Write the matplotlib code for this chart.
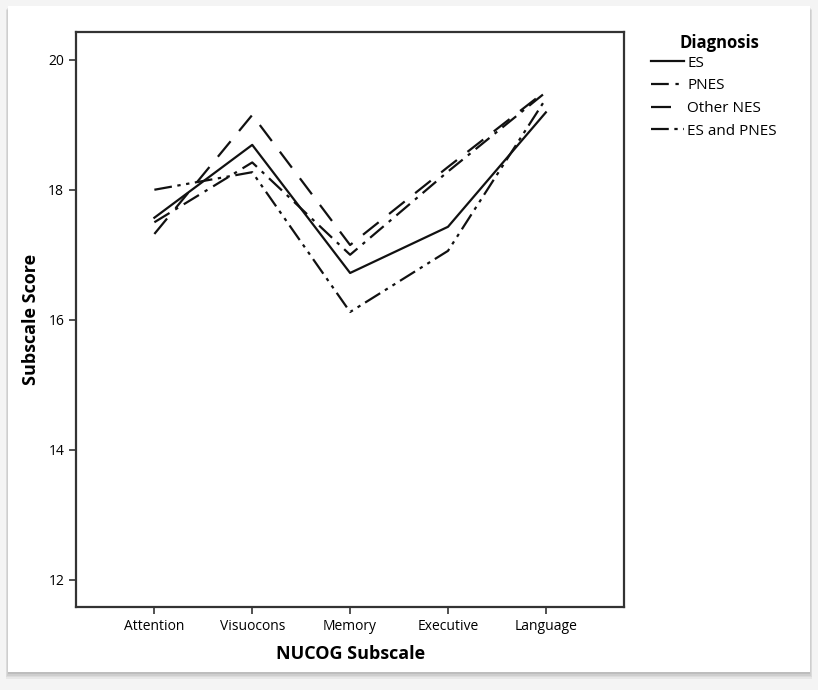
import matplotlib
matplotlib.use("Agg")
import matplotlib.pyplot as plt
from matplotlib.patches import FancyBboxPatch

plt.rcParams["font.family"] = ["Open Sans", "DejaVu Sans"]

SUBSCALES = ["Attention", "Visuocons", "Memory", "Executive", "Language"]
ES = [17.57, 18.69, 16.72, 17.43, 19.19]
PNES = [17.50, 18.42, 17.00, 18.28, 19.50]
OTHER_NES = [17.32, 19.15, 17.15, 18.35, 19.52]
ES_AND_PNES = [18.00, 18.27, 16.12, 17.06, 19.40]
Y_TICKS = [12, 14, 16, 18, 20]

SERIES = [
    ("ES", ES, "-"),
    ("PNES", PNES, (0, (8, 3, 1.5, 3))),
    ("Other NES", OTHER_NES, (0, (9, 6))),
    ("ES and PNES", ES_AND_PNES, (0, (8, 2.5, 1.5, 2.5, 1.5, 2.5))),
]

fig = plt.figure(figsize=(8.18, 6.9), dpi=100)
fig.patch.set_facecolor("#f4f4f4")

# card with a soft shadow, like the screenshot
for i, a in enumerate([0.05, 0.05, 0.06, 0.08]):
    pad = 0.010 - i * 0.0025
    fig.patches.append(FancyBboxPatch(
        (0.010 - pad * 0.3, 0.026 - pad), 0.980 + pad * 0.6, 0.965 + pad * 0.4,
        boxstyle="square,pad=0", transform=fig.transFigure,
        facecolor="black", edgecolor="none", alpha=a, zorder=-3))
fig.patches.append(FancyBboxPatch(
    (0.010, 0.026), 0.980, 0.965, boxstyle="square,pad=0",
    transform=fig.transFigure, facecolor="white", edgecolor="none", zorder=-2))

ax = fig.add_axes([0.093, 0.120, 0.670, 0.834])
ax.set_facecolor("white")
x = list(range(len(SUBSCALES)))
for name, vals, ls in SERIES:
    ax.plot(x, vals, color="#111111", linestyle=ls, linewidth=1.6, label=name)

ax.set_xlim(-0.8, 4.8)
ax.set_ylim(11.58, 20.43)
ax.set_xticks(x)
ax.set_xticklabels(SUBSCALES, fontsize=10)
ax.set_yticks(Y_TICKS)
ax.set_yticklabels([str(t) for t in Y_TICKS], fontsize=10)
ax.tick_params(direction="out", length=5, width=1.2, color="#333333")
for sp in ax.spines.values():
    sp.set_linewidth(1.6)
    sp.set_color("#333333")

ax.set_xlabel("NUCOG Subscale", fontsize=13, fontweight="bold", labelpad=8)
ax.set_ylabel("Subscale Score", fontsize=13, fontweight="bold", labelpad=6)

# legend title placed on its own so the entries sit close under it
fig.text(0.880, 0.937, "Diagnosis", fontsize=12, fontweight="bold",
         ha="center", va="center")
fig.legend(
    loc="upper left", bbox_to_anchor=(0.788, 0.928), frameon=False,
    fontsize=11, handlelength=2.2, handletextpad=0.2,
    labelspacing=0.5, borderaxespad=0,
)

fig.savefig("out.png", dpi=100, facecolor=fig.get_facecolor())
